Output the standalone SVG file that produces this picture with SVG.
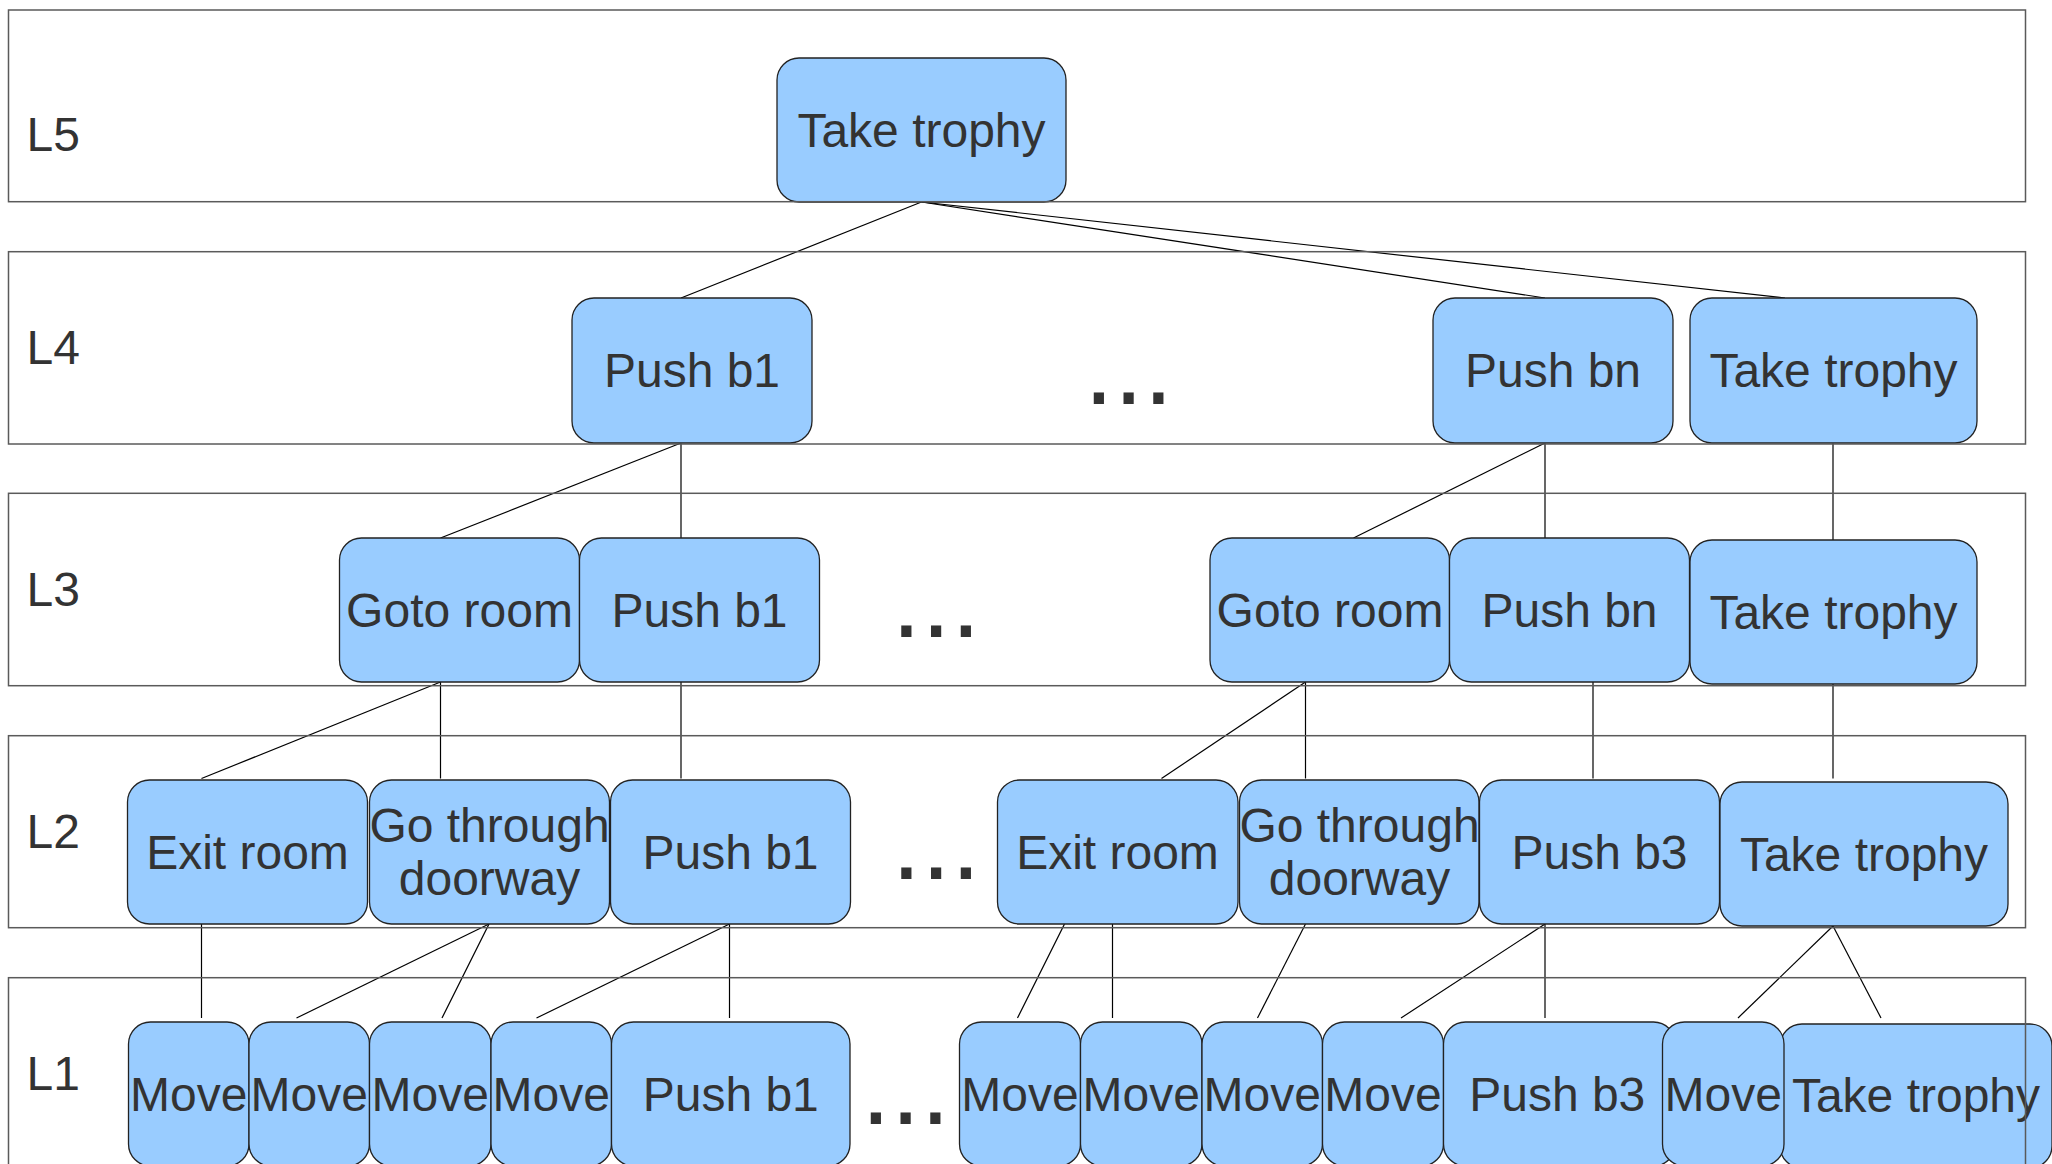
<svg xmlns="http://www.w3.org/2000/svg" width="2052" height="1164" viewBox="0 0 2052 1164">
  <style>
    .band { fill: none; stroke: #5a5a5a; stroke-width: 1.5; }
    .node rect { fill: #99ccff; stroke: #222222; stroke-width: 1.3; }
    .node text, .lbl, .dots { font-family: "Liberation Sans", Arial, sans-serif; fill: #333333; }
    .node text { font-size: 48px; text-anchor: middle; }
    .lbl { font-size: 48px; }
    .dots { font-size: 107px; }
    #edges line { stroke: #000000; stroke-width: 1.2; }
  </style>
  <rect width="2052" height="1164" fill="#ffffff"/>

  <!-- level labels -->
  <g id="labels">
    <text class="lbl" x="26.5" y="151">L5</text>
    <text class="lbl" x="26.5" y="364">L4</text>
    <text class="lbl" x="26.5" y="606">L3</text>
    <text class="lbl" x="26.5" y="848">L2</text>
    <text class="lbl" x="26.5" y="1090">L1</text>
  </g>

  <!-- ellipses for omitted subtrees -->
  <g id="ellipses">
    <text class="dots" x="1084" y="404">...</text>
    <text class="dots" x="891.5" y="637">...</text>
    <text class="dots" x="891.5" y="878.5">...</text>
    <text class="dots" x="861" y="1123.5">...</text>
  </g>

  <!-- connectors -->
  <g id="edges">
    <!-- L5 -> L4 -->
    <line x1="921.5" y1="202" x2="681" y2="298"/>
    <line x1="921.5" y1="202" x2="1545" y2="298"/>
    <line x1="921.5" y1="202" x2="1785" y2="298"/>
    <!-- L4 -> L3 -->
    <line x1="681" y1="443" x2="440.5" y2="538"/>
    <line x1="681" y1="443" x2="681" y2="538"/>
    <line x1="1545" y1="443" x2="1353.5" y2="538"/>
    <line x1="1545" y1="443" x2="1545" y2="538"/>
    <line x1="1833" y1="443" x2="1833" y2="540"/>
    <!-- L3 -> L2 -->
    <line x1="440.5" y1="682" x2="201.5" y2="778.5"/>
    <line x1="440.5" y1="682" x2="440.5" y2="778.5"/>
    <line x1="681" y1="682" x2="681" y2="778.5"/>
    <line x1="1305.5" y1="682" x2="1161.5" y2="778.5"/>
    <line x1="1305.5" y1="682" x2="1305.5" y2="778.5"/>
    <line x1="1593" y1="682" x2="1593" y2="778.5"/>
    <line x1="1833" y1="684" x2="1833" y2="778.5"/>
    <!-- L2 -> L1 -->
    <line x1="201.5" y1="924" x2="201.5" y2="1018"/>
    <line x1="489" y1="924" x2="296.5" y2="1018"/>
    <line x1="489" y1="924" x2="442" y2="1018"/>
    <line x1="729.5" y1="924" x2="536.5" y2="1018"/>
    <line x1="729.5" y1="924" x2="729.5" y2="1018"/>
    <line x1="1064.5" y1="924" x2="1017.5" y2="1018"/>
    <line x1="1112.5" y1="924" x2="1112.5" y2="1018"/>
    <line x1="1305.5" y1="924" x2="1257.5" y2="1018"/>
    <line x1="1545" y1="924" x2="1401" y2="1018"/>
    <line x1="1545" y1="924" x2="1545" y2="1018"/>
    <line x1="1833" y1="926" x2="1738" y2="1018"/>
    <line x1="1833" y1="926" x2="1881" y2="1018"/>
  </g>

  <!-- L5 -->
  <g id="l5-take-trophy" class="node"><rect x="777" y="58" width="289" height="144" rx="22"/><text x="921.5" y="147">Take trophy</text></g>

  <!-- L4 -->
  <g id="l4-push-b1" class="node"><rect x="572" y="298" width="240" height="145" rx="22"/><text x="692" y="387">Push b1</text></g>
  <g id="l4-push-bn" class="node"><rect x="1433" y="298" width="240" height="145" rx="22"/><text x="1553" y="387">Push bn</text></g>
  <g id="l4-take-trophy" class="node"><rect x="1690" y="298" width="287" height="145" rx="22"/><text x="1833.5" y="387">Take trophy</text></g>

  <!-- L3 -->
  <g id="l3-goto-room-1" class="node"><rect x="339.5" y="538" width="240" height="144" rx="22"/><text x="459.5" y="627">Goto room</text></g>
  <g id="l3-push-b1" class="node"><rect x="579.5" y="538" width="240" height="144" rx="22"/><text x="699.5" y="627">Push b1</text></g>
  <g id="l3-goto-room-2" class="node"><rect x="1210" y="538" width="239.5" height="144" rx="22"/><text x="1330" y="627">Goto room</text></g>
  <g id="l3-push-bn" class="node"><rect x="1449.5" y="538" width="240" height="144" rx="22"/><text x="1569.5" y="627">Push bn</text></g>
  <g id="l3-take-trophy" class="node"><rect x="1690" y="540" width="287" height="144" rx="22"/><text x="1833.5" y="629">Take trophy</text></g>

  <!-- L2 -->
  <g id="l2-exit-room-1" class="node"><rect x="127.5" y="780" width="240" height="144" rx="22"/><text x="247.5" y="869">Exit room</text></g>
  <g id="l2-doorway-1" class="node"><rect x="369.5" y="780" width="240" height="144" rx="22"/><text x="489.5" y="841.5">Go through</text><text x="489.5" y="895">doorway</text></g>
  <g id="l2-push-b1" class="node"><rect x="610.5" y="780" width="240" height="144" rx="22"/><text x="730.5" y="869">Push b1</text></g>
  <g id="l2-exit-room-2" class="node"><rect x="997.5" y="780" width="240.5" height="144" rx="22"/><text x="1117.5" y="869">Exit room</text></g>
  <g id="l2-doorway-2" class="node"><rect x="1239.5" y="780" width="239.5" height="144" rx="22"/><text x="1359.5" y="841.5">Go through</text><text x="1359.5" y="895">doorway</text></g>
  <g id="l2-push-b3" class="node"><rect x="1479.5" y="780" width="240" height="144" rx="22"/><text x="1599.5" y="869">Push b3</text></g>
  <g id="l2-take-trophy" class="node"><rect x="1720" y="782" width="288" height="144" rx="22"/><text x="1864" y="871">Take trophy</text></g>

  <!-- L1 -->
  <g id="l1-move-1" class="node"><rect x="128.5" y="1022" width="120.5" height="144" rx="22"/><text x="188.75" y="1111">Move</text></g>
  <g id="l1-move-2" class="node"><rect x="249" y="1022" width="120.5" height="144" rx="22"/><text x="309.25" y="1111">Move</text></g>
  <g id="l1-move-3" class="node"><rect x="369.5" y="1022" width="121.5" height="144" rx="22"/><text x="430.25" y="1111">Move</text></g>
  <g id="l1-move-4" class="node"><rect x="491" y="1022" width="120.5" height="144" rx="22"/><text x="551.25" y="1111">Move</text></g>
  <g id="l1-push-b1" class="node"><rect x="611.5" y="1022" width="238.5" height="144" rx="22"/><text x="730.75" y="1111">Push b1</text></g>
  <g id="l1-move-5" class="node"><rect x="959.5" y="1022" width="121" height="144" rx="22"/><text x="1020" y="1111">Move</text></g>
  <g id="l1-move-6" class="node"><rect x="1080.5" y="1022" width="121.5" height="144" rx="22"/><text x="1141.25" y="1111">Move</text></g>
  <g id="l1-move-7" class="node"><rect x="1202" y="1022" width="120.5" height="144" rx="22"/><text x="1262.25" y="1111">Move</text></g>
  <g id="l1-move-8" class="node"><rect x="1322.5" y="1022" width="121" height="144" rx="22"/><text x="1383" y="1111">Move</text></g>
  <g id="l1-push-b3" class="node"><rect x="1443.5" y="1022" width="232" height="144" rx="22"/><text x="1557.25" y="1111">Push b3</text></g>
  <g id="l1-take-trophy" class="node"><rect x="1780" y="1024" width="272" height="144" rx="22"/><text x="1916" y="1112">Take trophy</text></g>
  <g id="l1-move-9" class="node"><rect x="1662.5" y="1022" width="121.5" height="144" rx="22"/><text x="1723.25" y="1111">Move</text></g>

  <!-- level bands, outline only, drawn over the nodes -->
  <g id="bands">
    <rect class="band" x="8.5" y="10" width="2017" height="191.7"/>
    <rect class="band" x="8.5" y="251.7" width="2017" height="192.3"/>
    <rect class="band" x="8.5" y="493.3" width="2017" height="192.4"/>
    <rect class="band" x="8.5" y="735.7" width="2017" height="192"/>
    <rect class="band" x="8.5" y="977.7" width="2017" height="192"/>
  </g>
</svg>
